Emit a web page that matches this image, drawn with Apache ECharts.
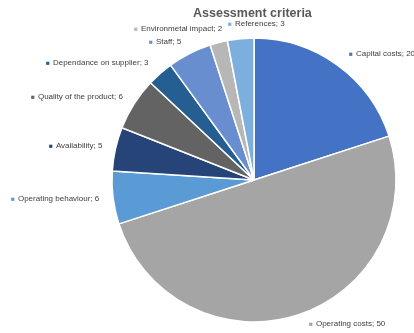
<!DOCTYPE html>
<html>
<head>
<meta charset="utf-8">
<script src="https://cdn.jsdelivr.net/npm/echarts@6/dist/echarts.min.js"></script>
<style>
  html, body { margin: 0; padding: 0; background: #fff; }
  #chart { width: 414px; height: 333px; }
</style>
</head>
<body>
<div id="chart"></div>
<script>
// Assessment criteria and their weights (clockwise from 12 o'clock)
const categories = [
  'Capital costs', 'Operating costs', 'Operating behaviour', 'Availability',
  'Quality of the product', 'Dependance on supplier', 'Staff',
  'Environmetal impact', 'References'
];
const weights = [20, 50, 6, 5, 6, 3, 5, 2, 3];

// Slice colours
const colors = ['#4472C4', '#A5A5A5', '#5B9BD5', '#264478', '#636363',
                '#255E91', '#698ED0', '#B7B7B7', '#7CAFDD'];

// Where each data label starts (left edge of the marker, vertical middle)
const labelAnchors = [
  [349, 54], [309, 324], [11, 199], [49, 146], [31, 97],
  [46, 63], [149, 42], [134, 29], [228, 24]
];

const chart = echarts.init(document.getElementById('chart'), null, { renderer: 'canvas' });

const data = categories.map((name, i) => ({
  name,
  value: weights[i],
  itemStyle: { color: colors[i] },
  label: {
    rich: {
      m: { color: colors[i], fontSize: 6.5, padding: [0, 3, 0, 0] },
      t: { color: '#404040', fontSize: 8, fontFamily: 'Liberation Sans, Arial, sans-serif' }
    }
  }
}));

chart.setOption({
  animation: false,
  title: {
    text: 'Assessment criteria',
    left: 188,
    top: 2,
    textStyle: {
      fontFamily: 'Liberation Sans, Arial, sans-serif',
      fontSize: 12.5,
      fontWeight: 'bold',
      color: '#595959'
    }
  },
  series: [{
    type: 'pie',
    center: [254, 180],
    radius: 142,
    startAngle: 90,
    clockwise: true,
    data,
    itemStyle: { borderColor: '#fff', borderWidth: 1.5 },
    label: {
      show: true,
      position: 'outside',
      overflow: 'none',
      width: 200,
      formatter: p => '{m|■}{t|' + p.name + '; ' + p.value + '}'
    },
    labelLine: { show: false },
    labelLayout: p => ({
      x: labelAnchors[p.dataIndex][0],
      y: labelAnchors[p.dataIndex][1],
      align: 'left',
      verticalAlign: 'middle'
    })
  }]
});
</script>
</body>
</html>
